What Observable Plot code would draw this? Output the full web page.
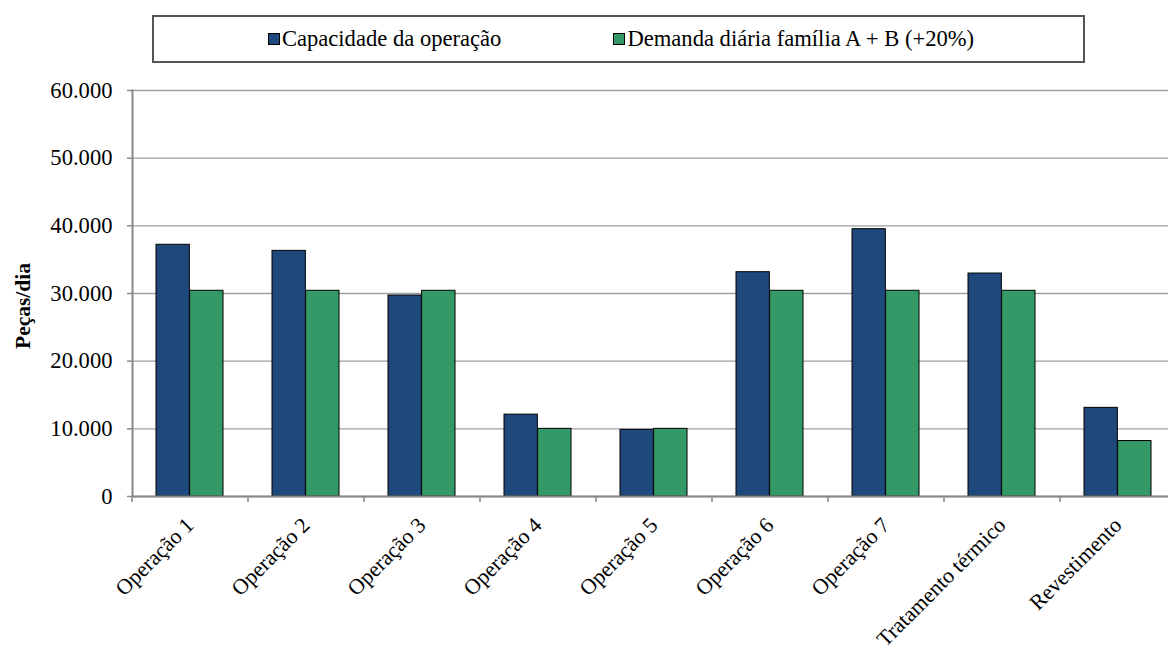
<!DOCTYPE html>
<html><head><meta charset="utf-8">
<script src="https://cdn.jsdelivr.net/npm/d3@7"></script>
<script src="https://cdn.jsdelivr.net/npm/@observablehq/plot@0.6"></script>
<style>
html,body{margin:0;padding:0;background:#fff;}
body{overflow:hidden;width:1168px;height:652px;position:relative;font-family:"Times New Roman","Liberation Serif",serif;color:#000;}
#chart{position:absolute;left:0;top:0;}
#chart svg text{font-family:"Times New Roman","Liberation Serif",serif;}
#legend{position:absolute;left:152px;top:15px;height:44px;border:2px solid #555;display:flex;align-items:center;justify-content:center;gap:112px;font-size:22.6px;background:#fff;padding-left:5px;box-sizing:content-box;width:924px;}
#legend span.item{display:flex;align-items:center;white-space:nowrap;}
.sw{display:inline-block;width:10px;height:10px;border:1px solid #000;margin-right:2px;}
#ylab{position:absolute;left:23px;top:306px;transform:translate(-50%,-50%) rotate(-90deg);font-weight:bold;font-size:21.5px;white-space:nowrap;}
</style></head><body>
<div id="chart"></div>
<div id="legend"></div>
<div id="ylab">Peças/dia</div>
<script>
const categories = ["Operação 1","Operação 2","Operação 3","Operação 4","Operação 5","Operação 6","Operação 7","Tratamento térmico","Revestimento"];
const capacidade = [37200, 36300, 29700, 12100, 9850, 33150, 39500, 32950, 13100];
const demanda = [30400, 30400, 30400, 10000, 10000, 30400, 30400, 30400, 8200];
const seriesNames = ["Capacidade da operação", "Demanda diária família A + B (+20%)"];
const seriesColors = ["#1f497d", "#339966"];
const yTicks = [0, 10000, 20000, 30000, 40000, 50000, 60000];

const rows = categories.map((c, i) => ({categoria: c, capacidade: capacidade[i], demanda: demanda[i]}));

const W = 1176, H = 652, mL = 132, mR = 0, mT = 90, mB = 156;
const padInner = 0.42;
const step = (W - mL - mR) / categories.length;
const half = step * (1 - padInner) / 2;

const fmt = d3.formatLocale({decimal: ",", thousands: ".", grouping: [3], currency: ["", ""]}).format(",");

const plot = Plot.plot({
  width: W, height: H,
  marginLeft: mL, marginRight: mR, marginTop: mT, marginBottom: mB,
  style: {fontFamily: "Times New Roman, Liberation Serif, serif", fontSize: "22.6px", color: "#000", background: "transparent", maxWidth: "none", overflow: "visible"},
  x: {type: "band", domain: categories, paddingInner: padInner, paddingOuter: padInner / 2, axis: null},
  y: {domain: [0, 60000], axis: null},
  marks: [
    Plot.gridY(yTicks, {stroke: "#a0a0a0", strokeOpacity: 1, strokeWidth: 1.4}),
    Plot.barY(rows, {x: "categoria", y: "capacidade", fill: seriesColors[0], stroke: "#000", strokeWidth: 1, insetRight: half}),
    Plot.barY(rows, {x: "categoria", y: "demanda", fill: seriesColors[1], stroke: "#000", strokeWidth: 1, insetLeft: half}),
    Plot.ruleY([0], {stroke: "#888", strokeWidth: 2}),
    Plot.frame({anchor: "left", stroke: "#888", strokeWidth: 2}),
    Plot.axisY(yTicks, {tickFormat: fmt, tickSize: 5, tickPadding: 15, stroke: "#888", strokeWidth: 1.5, fontSize: 22.6, label: null}),
    Plot.axisX({dx: -step / 2, tickSize: 6, tickFormat: () => "", stroke: "#888", strokeWidth: 1.5, label: null}),
    Plot.axisX({tickRotate: -45, tickSize: 0, tickPadding: 25, fontSize: 21.8, label: null})
  ]
});
document.getElementById("chart").appendChild(plot);

const leg = document.getElementById("legend");
seriesNames.forEach((n, i) => {
  const it = document.createElement("span");
  it.className = "item";
  const sw = document.createElement("span");
  sw.className = "sw";
  sw.style.background = seriesColors[i];
  it.appendChild(sw);
  it.appendChild(document.createTextNode(n));
  leg.appendChild(it);
});
</script>
</body></html>
